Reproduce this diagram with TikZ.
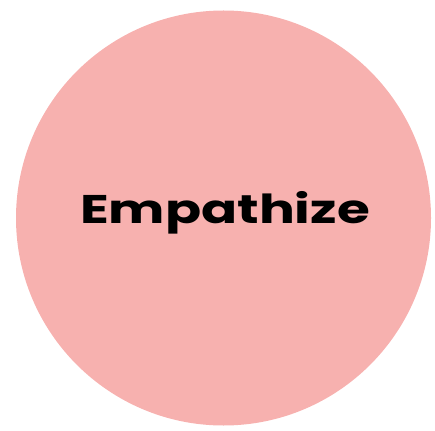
\documentclass[tikz,border=0pt]{standalone}
\usepackage{fontspec}
\newfontfamily\titlefont{Poppins}
\definecolor{empink}{HTML}{F7B1AF}
\tikzset{
  stagelabel/.style={anchor=base, font=\titlefont\bfseries\fontsize{40}{42}\selectfont, text=black, inner sep=0pt, xscale=1.33}
}
\begin{document}
\begin{tikzpicture}[x=1pt,y=-1pt]

        \useasboundingbox (0,0) rectangle (435,430);
        \fill[empink] (223.5,218) circle (207.5);
        \node[stagelabel] (stage) at (225,223) {Empathize};
    \end{tikzpicture}
\end{document}
